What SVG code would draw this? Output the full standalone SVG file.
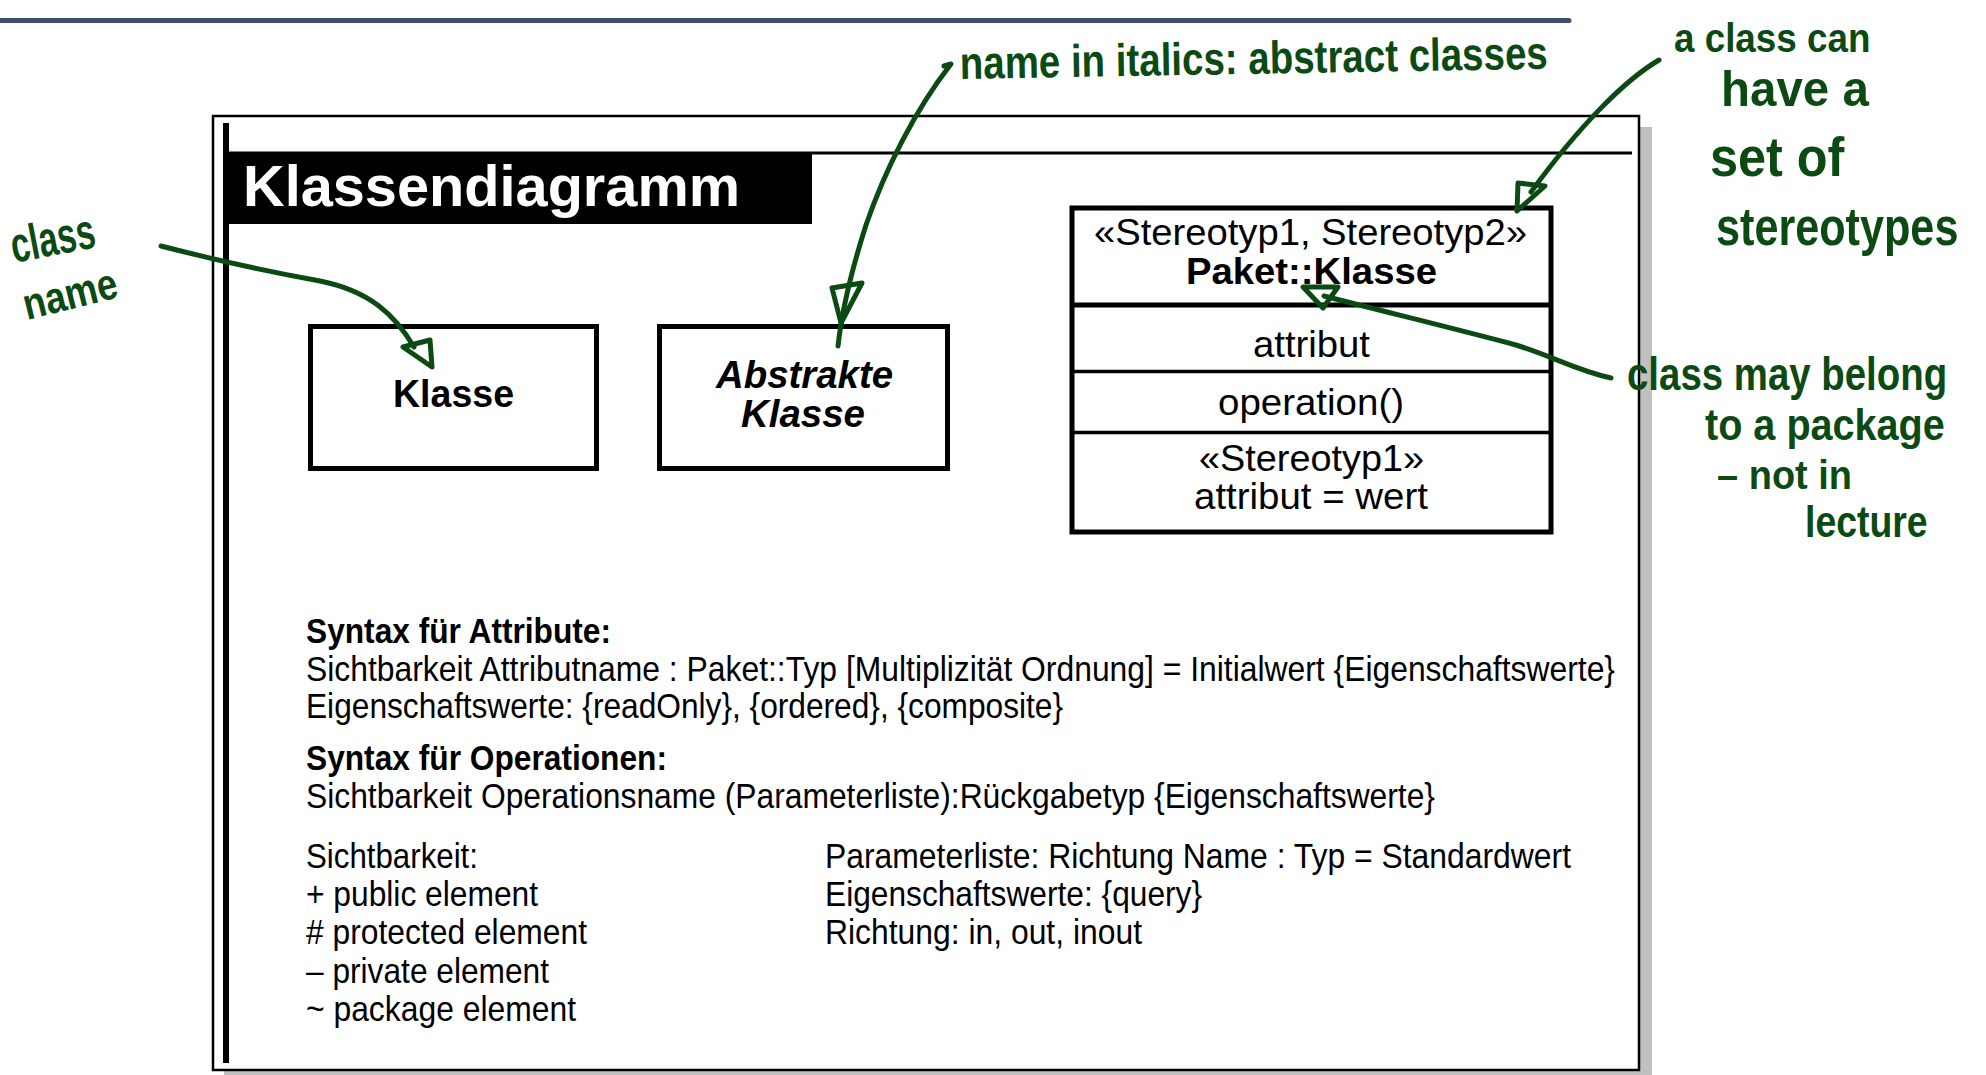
<svg xmlns="http://www.w3.org/2000/svg" width="1986" height="1075" viewBox="0 0 1986 1075">
<defs>
<style>
.t{font-family:"Liberation Sans",Arial,sans-serif;fill:#000}
.b{font-weight:bold}
.body{font-size:35px}
.box{font-size:37px}
.hand{font-family:"Liberation Sans",Arial,sans-serif;font-weight:bold;fill:#0b4a12}
.ink{fill:none;stroke:#0b4a12;stroke-width:5;stroke-linecap:round;stroke-linejoin:round}
</style>
</defs>
<rect width="1986" height="1075" fill="#fff"/>
<line x1="0" y1="20.5" x2="1569" y2="20.5" stroke="#3e4d6b" stroke-width="5" stroke-linecap="round"/>

<g id="frame">
<rect x="224" y="127" width="1428" height="955" fill="#c0c0c0"/>
<rect x="213" y="116" width="1426" height="954" fill="#fff" stroke="#000" stroke-width="2.5"/>
<rect x="223" y="123" width="6" height="940" fill="#000"/>
<rect x="229" y="151.5" width="1403" height="3" fill="#000"/>
</g>

<g id="title">
<rect x="229" y="152" width="583" height="72" fill="#000"/>
<text class="t b" x="243" y="206" font-size="58" style="fill:#fff" textLength="497" lengthAdjust="spacingAndGlyphs">Klassendiagramm</text>
</g>

<g id="klasse">
<rect x="310.5" y="326.5" width="286" height="142" fill="#fff" stroke="#000" stroke-width="5"/>
<text class="t b" x="393" y="407" font-size="39" textLength="121" lengthAdjust="spacingAndGlyphs">Klasse</text>
</g>

<g id="abstrakte-klasse">
<rect x="659.5" y="326.5" width="288" height="142" fill="#fff" stroke="#000" stroke-width="5"/>
<text class="t b" x="716" y="388" font-size="39" font-style="italic" textLength="177" lengthAdjust="spacingAndGlyphs">Abstrakte</text>
<text class="t b" x="741" y="427" font-size="39" font-style="italic" textLength="124" lengthAdjust="spacingAndGlyphs">Klasse</text>
</g>

<g id="uml-klasse">
<rect x="1072" y="208" width="479" height="324" fill="#fff" stroke="#000" stroke-width="5"/>
<line x1="1072" y1="305" x2="1551" y2="305" stroke="#000" stroke-width="5"/>
<line x1="1072" y1="371.5" x2="1551" y2="371.5" stroke="#000" stroke-width="3.5"/>
<line x1="1072" y1="432.5" x2="1551" y2="432.5" stroke="#000" stroke-width="3.5"/>
<text class="t box" x="1094" y="245" textLength="433" lengthAdjust="spacingAndGlyphs">«Stereotyp1, Stereotyp2»</text>
<text class="t box b" x="1186" y="284" textLength="251" lengthAdjust="spacingAndGlyphs">Paket::Klasse</text>
<text class="t box" x="1253" y="357" textLength="117" lengthAdjust="spacingAndGlyphs">attribut</text>
<text class="t box" x="1218" y="415" textLength="186" lengthAdjust="spacingAndGlyphs">operation()</text>
<text class="t box" x="1199" y="471" textLength="225" lengthAdjust="spacingAndGlyphs">«Stereotyp1»</text>
<text class="t box" x="1194" y="509" textLength="234" lengthAdjust="spacingAndGlyphs">attribut = wert</text>
</g>

<g id="syntax-text">
<text class="t body b" x="306" y="643" textLength="305" lengthAdjust="spacingAndGlyphs">Syntax für Attribute:</text>
<text class="t body" x="306" y="681" textLength="1309" lengthAdjust="spacingAndGlyphs">Sichtbarkeit Attributname : Paket::Typ [Multiplizität Ordnung] = Initialwert {Eigenschaftswerte}</text>
<text class="t body" x="306" y="718" textLength="757" lengthAdjust="spacingAndGlyphs">Eigenschaftswerte: {readOnly}, {ordered}, {composite}</text>
<text class="t body b" x="306" y="770" textLength="361" lengthAdjust="spacingAndGlyphs">Syntax für Operationen:</text>
<text class="t body" x="306" y="808" textLength="1129" lengthAdjust="spacingAndGlyphs">Sichtbarkeit Operationsname (Parameterliste):Rückgabetyp {Eigenschaftswerte}</text>
<text class="t body" x="306" y="868" textLength="172" lengthAdjust="spacingAndGlyphs">Sichtbarkeit:</text>
<text class="t body" x="306" y="906" textLength="232" lengthAdjust="spacingAndGlyphs">+ public element</text>
<text class="t body" x="306" y="944" textLength="281" lengthAdjust="spacingAndGlyphs"># protected element</text>
<text class="t body" x="306" y="983" textLength="243" lengthAdjust="spacingAndGlyphs">– private element</text>
<text class="t body" x="306" y="1021" textLength="270" lengthAdjust="spacingAndGlyphs">~ package element</text>
<text class="t body" x="825" y="868" textLength="746" lengthAdjust="spacingAndGlyphs">Parameterliste: Richtung Name : Typ = Standardwert</text>
<text class="t body" x="825" y="906" textLength="377" lengthAdjust="spacingAndGlyphs">Eigenschaftswerte: {query}</text>
<text class="t body" x="825" y="944" textLength="317" lengthAdjust="spacingAndGlyphs">Richtung: in, out, inout</text>
</g>

<g id="annotations">
<text class="hand" transform="translate(14,263) rotate(-11)" font-size="50" textLength="85" lengthAdjust="spacingAndGlyphs">class</text>
<text class="hand" transform="translate(27,320) rotate(-14)" font-size="44" textLength="96" lengthAdjust="spacingAndGlyphs">name</text>
<text class="hand" transform="translate(960,79) rotate(-1)" font-size="46" textLength="588" lengthAdjust="spacingAndGlyphs">name in italics: abstract classes</text>
<text class="hand" transform="translate(1674,52) scale(0.92,1)" font-size="40">a class can</text>
<text class="hand" transform="translate(1721,106) scale(0.95,1)" font-size="50">have a</text>
<text class="hand" transform="translate(1710,176) scale(0.9,1)" font-size="56">set of</text>
<text class="hand" transform="translate(1716,245) scale(0.8,1)" font-size="54">stereotypes</text>
<text class="hand" transform="translate(1627,390) scale(0.835,1)" font-size="46">class may belong</text>
<text class="hand" transform="translate(1705,440) scale(0.9,1)" font-size="44">to a package</text>
<text class="hand" transform="translate(1717,489) scale(0.95,1)" font-size="40">– not in</text>
<text class="hand" transform="translate(1805,537) scale(0.85,1)" font-size="44">lecture</text>
</g>

<g id="connectors">
<path class="ink" d="M161,246 C215,260 265,271 320,281 C370,291 395,315 414,347"/>
<path class="ink" d="M403,347 L430,340 L432,367 Z"/>
<path class="ink" d="M944,66 L951,64 C915,110 885,170 866,225 C850,275 842,310 838,346"/>
<path class="ink" d="M832,288 L862,283 L841,323 Z"/>
<path class="ink" d="M1659,60 C1625,80 1580,125 1531,192"/>
<path class="ink" d="M1518,183 L1545,186 L1517,211 Z"/>
<path class="ink" d="M1611,378 C1575,370 1555,357 1516,345 C1460,330 1390,313 1324,296"/>
<path class="ink" d="M1303,287 L1338,287 L1323,308 Z"/>
</g>
</svg>
